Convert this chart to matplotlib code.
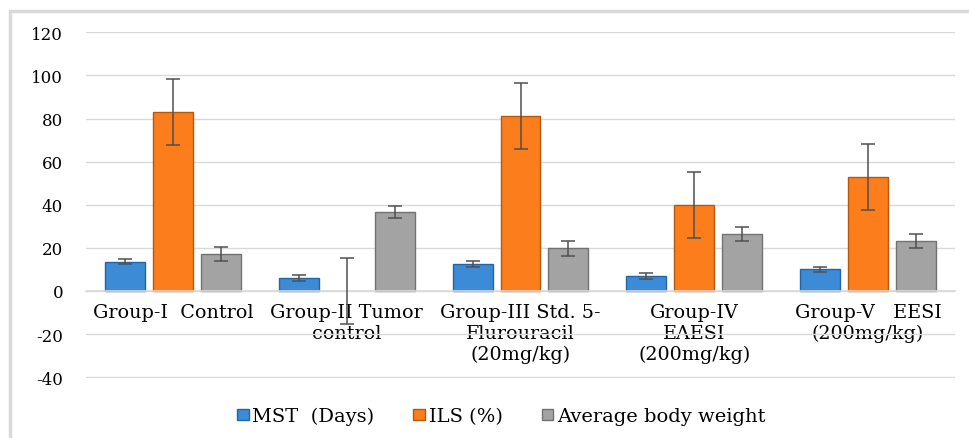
"""Grouped bar chart of MST, ILS and average body weight per treatment group."""
import numpy as np
import matplotlib
matplotlib.use("Agg")
import matplotlib.pyplot as plt
from matplotlib.patches import Rectangle

groups = ["Group-I  Control",
          "Group-II Tumor\ncontrol",
          "Group-III Std. 5-\nFlurouracil\n(20mg/kg)",
          "Group-IV\nEAESI\n(200mg/kg)",
          "Group-V   EESI\n(200mg/kg)"]
series_names = ["MST  (Days)", "ILS (%)", "Average body weight"]

mst = [13.5, 5.9, 12.4, 6.8, 10.1]
mst_err = [1.2, 1.4, 1.3, 1.4, 1.2]
ils = [83.2, 0.0, 81.2, 39.9, 52.9]
ils_err = [15.3, 15.3, 15.1, 15.3, 15.3]
bw = [17.2, 36.6, 19.8, 26.4, 23.1]
bw_err = [3.4, 2.8, 3.5, 3.3, 3.3]

plt.rcParams["font.family"] = ["DejaVu Serif"]
plt.rcParams["axes.unicode_minus"] = False

fig = plt.figure(figsize=(9.7, 4.39), dpi=100)
ax = fig.add_axes([0.0887, 0.137, 0.8958, 0.7885])

# outer chart frame (light gray, only left and top edges visible)
fig.patches.append(Rectangle((10 / 970, -0.1), 1.2, 1.1 - 12 / 439,
                             transform=fig.transFigure, fill=False,
                             edgecolor="#d9d9d9", linewidth=2.5, zorder=0))

x = np.arange(len(groups))
step = 0.276
width = 0.23
colors = ["#3b8bd6", "#fb7d1b", "#a3a3a3"]
edges = ["#2366a6", "#b9580c", "#727272"]
values = [mst, ils, bw]
errors = [mst_err, ils_err, bw_err]

for i in range(3):
    lw = [0 if v == 0 else 1.0 for v in values[i]]
    ax.bar(x + (i - 1) * step, values[i], width, color=colors[i],
           edgecolor=edges[i], linewidth=lw, label=series_names[i], zorder=2)
    ax.errorbar(x + (i - 1) * step, values[i], yerr=errors[i], fmt="none",
                ecolor="#505050", elinewidth=1.1, capsize=5, capthick=1.1,
                zorder=4)

ax.set_xlim(-0.5, len(groups) - 0.5)
ax.set_ylim(-40.3, 120.3)
ax.set_yticks(np.arange(-40, 121, 20))
ax.yaxis.grid(True, color="#d9d9d9", linewidth=1.0, zorder=0)
ax.set_axisbelow(True)

for side in ["top", "right", "left"]:
    ax.spines[side].set_visible(False)
ax.spines["bottom"].set_position(("data", 0))
ax.spines["bottom"].set_color("#d9d9d9")
ax.spines["bottom"].set_linewidth(1.2)

ax.set_xticks(x)
ax.set_xticklabels(groups, fontsize=13.8, linespacing=1.17)
ax.tick_params(axis="x", length=0, pad=9)
ax.tick_params(axis="y", length=0, pad=16.5, labelsize=12)

ax.legend(loc="upper center", bbox_to_anchor=(0.478, -0.033), ncol=3,
          frameon=False, fontsize=14, handlelength=0.6, handleheight=0.5,
          handletextpad=0.2, columnspacing=2.0)

fig.savefig("out.png", dpi=100)
